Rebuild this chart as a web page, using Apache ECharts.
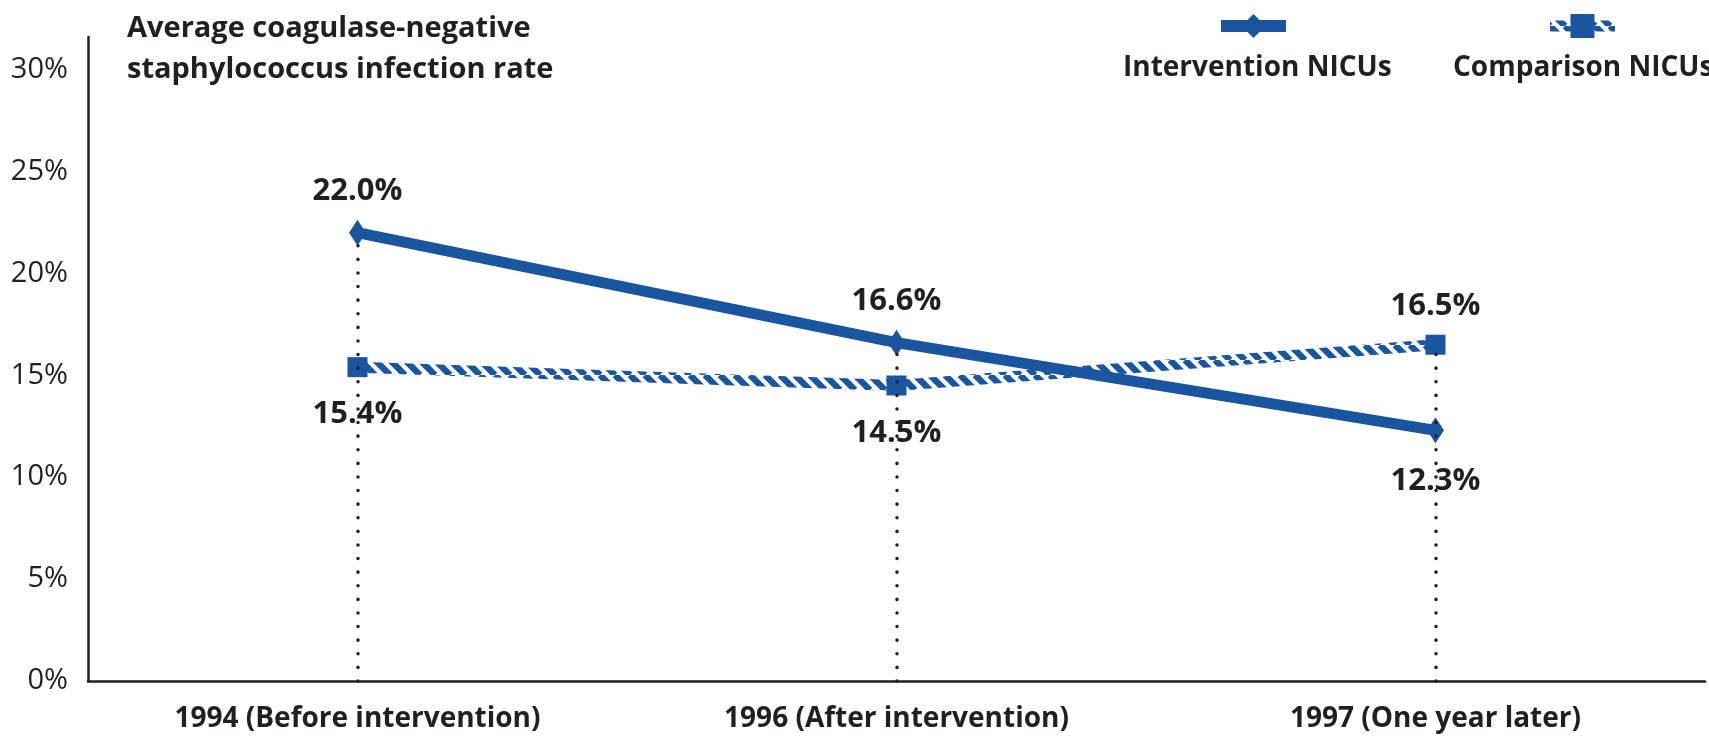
<!DOCTYPE html>
<html>
<head>
<meta charset="utf-8">
<script src="https://cdn.jsdelivr.net/npm/echarts@6/dist/echarts.min.js"></script>
<style>
html,body{margin:0;padding:0;background:#fff;}
#chart{width:1709px;height:737px;}
</style>
</head>
<body>
<div id="chart"></div>
<script>
const categories = ['1994 (Before intervention)', '1996 (After intervention)', '1997 (One year later)'];
const interventionValues = [22.0, 16.6, 12.3];
const comparisonValues = [15.4, 14.5, 16.5];
const yTickValues = [0, 5, 10, 15, 20, 25, 30];
const titleLines = ['Average coagulase-negative', 'staphylococcus infection rate'];
const seriesNames = ['Intervention NICUs', 'Comparison NICUs'];

const BLUE = '#1a569f';
const INK = '#231f20';
const FONT = '"Open Sans", Lato, "DejaVu Sans", sans-serif';

// diagonal hatch pattern for the comparison line
function makeHatch() {
  const s = 15;
  const c = document.createElement('canvas');
  c.width = s; c.height = s;
  const g = c.getContext('2d');
  g.fillStyle = '#ffffff';
  g.fillRect(0, 0, s, s);
  g.strokeStyle = BLUE;
  g.lineWidth = 6.5;
  for (const off of [-s, 0, s]) {
    g.beginPath();
    g.moveTo(off, 0);
    g.lineTo(off + s, s);
    g.stroke();
  }
  return c;
}
const hatch = { image: makeHatch(), repeat: 'repeat' };

function pctLabel(v) { return v.toFixed(1) + '%'; }

function buildData(own, other) {
  return own.map((v, i) => {
    const above = v >= other[i];
    return {
      value: v,
      label: { position: above ? 'top' : 'bottom', distance: above ? 13 : 22 }
    };
  });
}

const guideData = categories.map((c, i) => [
  { coord: [c, 0] },
  { coord: [c, Math.max(interventionValues[i], comparisonValues[i])] }
]);

const labelStyle = {
  show: true,
  formatter: p => pctLabel(p.value),
  fontFamily: FONT,
  fontWeight: 'bold',
  fontSize: 31,
  color: INK
};

const legendText = (padLeft) => ({
  fontFamily: FONT, fontWeight: 'bold', fontSize: 28, lineHeight: 42, color: INK,
  padding: [0, 0, 0, padLeft]
});

const chart = echarts.init(document.getElementById('chart'), null, { renderer: 'canvas' });
chart.setOption({
  animation: false,
  backgroundColor: '#ffffff',
  title: {
    text: titleLines.join('\n'),
    left: 122,
    top: 3,
    textStyle: { fontFamily: FONT, fontWeight: 'bold', fontSize: 29, lineHeight: 41, color: INK }
  },
  legend: [
    {
      data: [seriesNames[0]],
      left: 1123, top: -37, padding: 0,
      itemWidth: 65, itemHeight: 30,
      formatter: n => '\n\n' + n,
      lineStyle: { width: 12 },
      textStyle: legendText(-168)
    },
    {
      data: [seriesNames[1]],
      left: 1453, top: -37, padding: 0,
      itemWidth: 65, itemHeight: 30,
      formatter: n => '\n\n' + n,
      lineStyle: { width: 11 },
      textStyle: legendText(-167)
    }
  ],
  grid: { left: 88, right: 4, top: 37, bottom: 56, containLabel: false },
  xAxis: {
    type: 'category',
    data: categories,
    axisLine: { show: true, lineStyle: { color: INK, width: 2.5 } },
    axisTick: { show: false },
    splitLine: { show: false },
    axisLabel: { fontFamily: FONT, fontWeight: 'bold', fontSize: 28, color: INK, margin: 24, interval: 0 }
  },
  yAxis: {
    type: 'value',
    min: 0, max: 31.6, interval: 5,
    axisLine: { show: true, lineStyle: { color: INK, width: 2.5 } },
    axisTick: { show: false },
    splitLine: { show: false },
    axisLabel: {
      fontFamily: FONT, fontSize: 29, color: INK, margin: 20,
      formatter: v => (yTickValues.indexOf(v) >= 0 ? v + '%' : '')
    }
  },
  series: [
    {
      name: seriesNames[0],
      type: 'line',
      data: buildData(interventionValues, comparisonValues),
      symbol: 'diamond',
      symbolSize: [17, 26],
      lineStyle: { color: BLUE, width: 11 },
      itemStyle: { color: BLUE },
      label: labelStyle,
      z: 3
    },
    {
      name: seriesNames[1],
      type: 'line',
      data: buildData(comparisonValues, interventionValues),
      symbol: 'rect',
      symbolSize: 20,
      lineStyle: { color: hatch, width: 11 },
      itemStyle: { color: BLUE },
      label: labelStyle,
      z: 2
    },
    {
      name: 'guides',
      type: 'line',
      data: [],
      z: 10,
      silent: true,
      markLine: {
        silent: true,
        symbol: ['none', 'none'],
        label: { show: false },
        lineStyle: { color: INK, width: 3.5, type: [0.1, 13.5], cap: 'round' },
        emphasis: { disabled: true },
        data: guideData
      }
    }
  ]
});
</script>
</body>
</html>
